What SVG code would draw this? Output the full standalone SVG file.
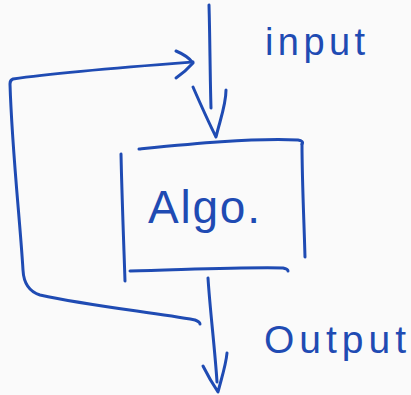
<svg xmlns="http://www.w3.org/2000/svg" width="411" height="395" viewBox="0 0 411 395">
<style>
.s{fill:none;stroke:#1f4bb3;stroke-width:3;stroke-linecap:round;stroke-linejoin:round}
.t{fill:#1f4bb3;font-family:"Liberation Sans",Arial,sans-serif}
</style>
<rect width="411" height="395" fill="#fafafa"/>
<g id="algo">
<path class="s" d="M139,149 C190,144 250,138 298,140 Q304,141 302,144"/>
<path class="s" d="M121,154 C122,200 124,250 125,281"/>
<path class="s" d="M302,144 C302,180 304,220 305,257"/>
<path class="s" d="M130,271 C180,270 240,267 283,268 Q288,269 288,271"/>
<text class="t" x="148" y="223" font-size="46" textLength="112" lengthAdjust="spacing">Algo.</text>
</g>
<g id="input-label">
<text class="t" x="265" y="55" font-size="38" textLength="100" lengthAdjust="spacing">input</text>
</g>
<g id="output-label">
<text class="t" x="264" y="353" font-size="39" textLength="142" lengthAdjust="spacing">Output</text>
</g>
<g id="connectors">
<path class="s" d="M209,5 C210,40 210,75 211,108"/>
<path class="s" d="M193,87 C200,103 210,125 216,137 C220,120 226,105 226,90"/>
<path class="s" d="M193,62 C140,66 60,72 13,79 Q10,80 10,84 C12,150 20,220 23,270 Q24,290 40,295 C90,306 150,312 195,320 Q200,322 200,324"/>
<path class="s" d="M176,51 Q188,56 193,63 Q186,71 176,78"/>
<path class="s" d="M208,278 C210,310 215,350 217,382"/>
<path class="s" d="M203,366 C208,376 214,386 218,392 C221,380 226,365 227,353"/>
</g>
</svg>
